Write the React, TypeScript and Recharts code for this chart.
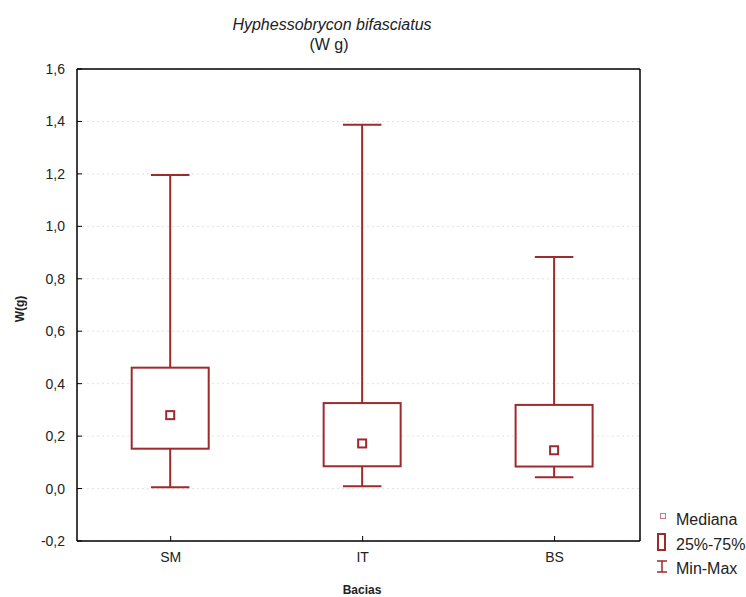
import { ComposedChart, Bar, XAxis, YAxis, CartesianGrid } from 'recharts'

const categories = ['SM', 'IT', 'BS']
const minVals = [0.005, 0.009, 0.043]
const q1Vals = [0.152, 0.085, 0.084]
const medianVals = [0.28, 0.172, 0.146]
const q3Vals = [0.461, 0.326, 0.319]
const maxVals = [1.196, 1.387, 0.883]
const yTicks = [-0.2, 0, 0.2, 0.4, 0.6, 0.8, 1.0, 1.2, 1.4, 1.6]

const RED = '#9e2a2e'
const FONT = '"Liberation Sans", Arial, sans-serif'
const X_DOMAIN = [0.512, 3.445]
const Y_DOMAIN = [-0.2, 1.6]

const data = categories.map((name, i) => ({
  pos: i + 1,
  name,
  min: minVals[i],
  q1: q1Vals[i],
  median: medianVals[i],
  q3: q3Vals[i],
  max: maxVals[i],
  range: [minVals[i], maxVals[i]],
}))

const fmt = (v: number) => v.toFixed(1).replace('.', ',')
const tickText = { fontSize: 14, fill: '#222', fontFamily: FONT }
const frame = { stroke: '#000', strokeWidth: 1.5 }

function BoxShape(props: any) {
  const { x, y, width, height, payload } = props
  if (height == null || !payload) return null
  const { min, max, q1, q3, median } = payload
  const k = height / (max - min)
  const py = (v: number) => y + (max - v) * k
  const cx = x + width / 2
  const cap = width / 4
  return (
    <g>
      <line x1={cx} x2={cx} y1={py(max)} y2={py(min)} stroke={RED} strokeWidth={2} />
      <line x1={cx - cap} x2={cx + cap} y1={py(max)} y2={py(max)} stroke={RED} strokeWidth={2} />
      <line x1={cx - cap} x2={cx + cap} y1={py(min)} y2={py(min)} stroke={RED} strokeWidth={2} />
      <rect x={x} y={py(q3)} width={width} height={py(q1) - py(q3)} fill="#fff" stroke={RED} strokeWidth={2} />
      <rect x={cx - 4} y={py(median) - 4} width={8} height={8} fill="#fff" stroke={RED} strokeWidth={2} />
    </g>
  )
}

export default function App() {
  return (
    <div style={{ position: 'relative', width: 746, height: 597, background: '#fff' }}>
      <style>{'body{margin:0}'}</style>
      <ComposedChart width={746} height={597} data={data} margin={{ top: 68, right: 105, bottom: 0, left: 0 }}>
        <CartesianGrid vertical={false} stroke="#e2e2e2" strokeDasharray="2 3" />
        <XAxis
          dataKey="pos"
          type="number"
          domain={X_DOMAIN}
          ticks={[1, 2, 3]}
          tickFormatter={(v: number) => categories[v - 1]}
          height={56}
          tickSize={-5}
          tickMargin={16}
          tickLine={{ stroke: '#000' }}
          axisLine={frame}
          tick={tickText}
          allowDataOverflow
        />
        <XAxis
          xAxisId="top"
          dataKey="pos"
          type="number"
          orientation="top"
          domain={X_DOMAIN}
          ticks={[1, 2, 3]}
          height={1}
          tickSize={-5}
          tickLine={{ stroke: '#000' }}
          axisLine={frame}
          tick={false}
          allowDataOverflow
        />
        <YAxis
          type="number"
          domain={Y_DOMAIN}
          ticks={yTicks}
          tickFormatter={fmt}
          width={77}
          tickSize={-5}
          tickMargin={17}
          tickLine={{ stroke: '#000' }}
          axisLine={frame}
          tick={tickText}
          interval={0}
          allowDataOverflow
        />
        <YAxis
          yAxisId="r"
          orientation="right"
          type="number"
          domain={Y_DOMAIN}
          ticks={yTicks}
          width={1}
          tickSize={-5}
          tickLine={{ stroke: '#000' }}
          axisLine={frame}
          tick={false}
          interval={0}
          allowDataOverflow
        />
        <Bar dataKey="range" barSize={77} shape={<BoxShape />} isAnimationActive={false} />
      </ComposedChart>
      <svg
        width={746}
        height={597}
        style={{ position: 'absolute', left: 0, top: 0, pointerEvents: 'none' }}
        fontFamily={FONT}
      >
        <text x={332} y={30} textAnchor="middle" fontSize={16} fontStyle="italic" fill="#222">
          Hyphessobrycon bifasciatus
        </text>
        <text x={329} y={50} textAnchor="middle" fontSize={16} fill="#222">
          (W g)
        </text>
        <text
          x={24}
          y={309}
          textAnchor="middle"
          fontSize={12}
          fontWeight="bold"
          fill="#222"
          transform="rotate(-90 24 309)"
        >
          W(g)
        </text>
        <text x={362} y={594} textAnchor="middle" fontSize={12} fontWeight="bold" fill="#222">
          Bacias
        </text>
        <rect x={660.5} y={513.5} width={5} height={5} fill="#fff" stroke="#c27a7c" strokeWidth={1} />
        <text x={676} y={525} fontSize={16} fill="#222">Mediana</text>
        <rect x={658} y={534} width={7} height={16} fill="#fff" stroke={RED} strokeWidth={2} />
        <text x={676} y={550} fontSize={16} fill="#222">25%-75%</text>
        <line x1={662} x2={662} y1={561} y2={572} stroke={RED} strokeWidth={1.5} />
        <line x1={657} x2={667} y1={561} y2={561} stroke={RED} strokeWidth={1.5} />
        <line x1={657} x2={667} y1={572} y2={572} stroke={RED} strokeWidth={1.5} />
        <text x={676} y={574} fontSize={16} fill="#222">Min-Max</text>
      </svg>
    </div>
  )
}
